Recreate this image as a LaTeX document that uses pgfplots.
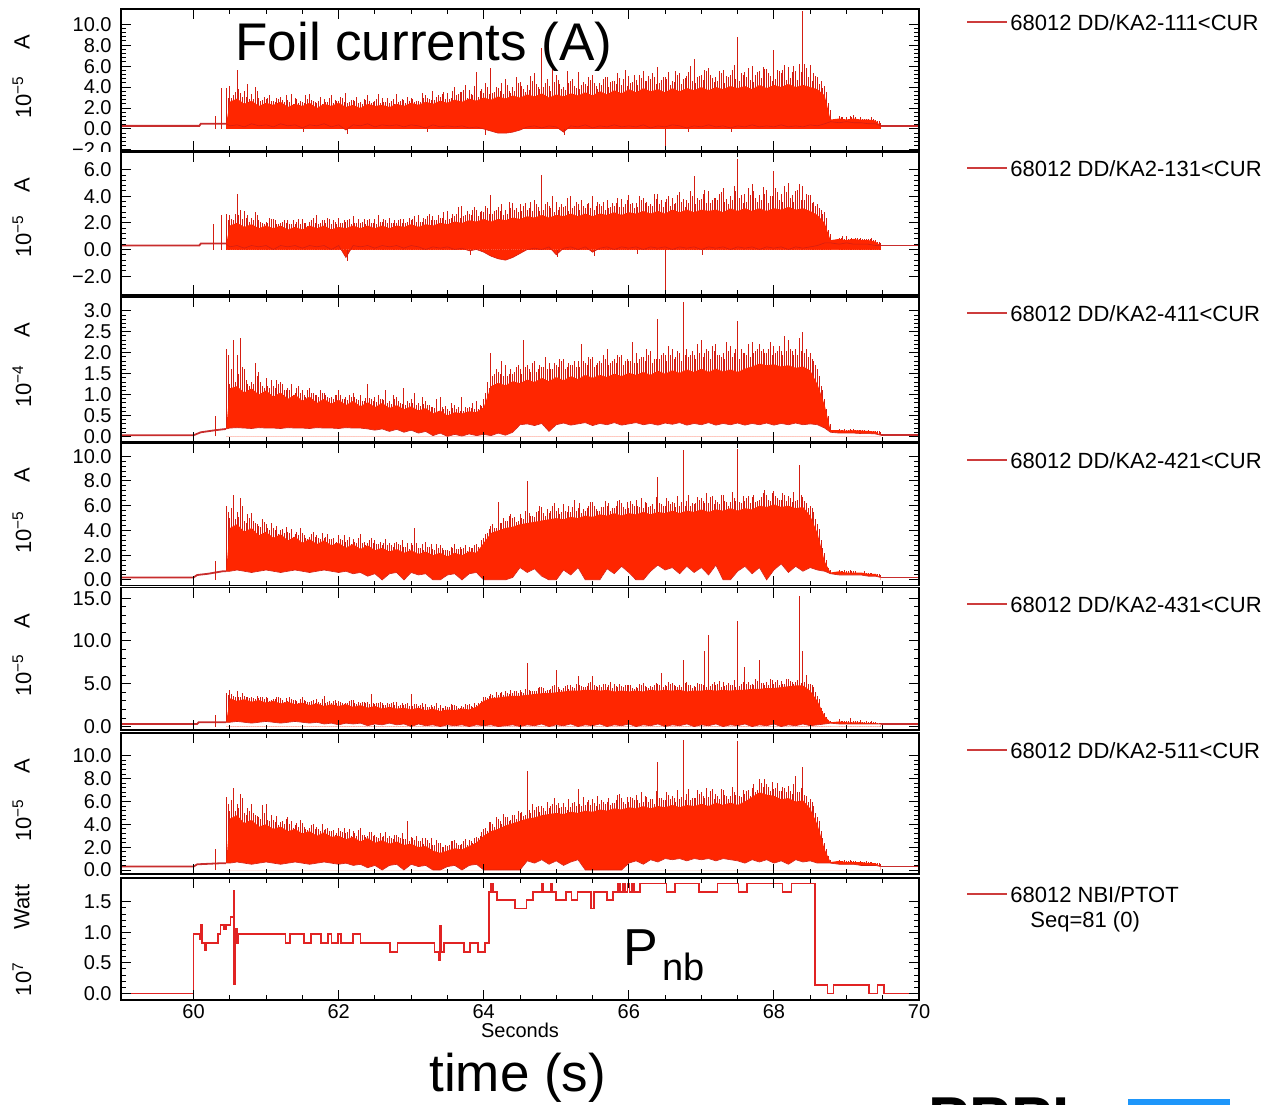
\documentclass[border=0pt]{standalone}
\usepackage{fontspec}
\setmainfont{Liberation Sans}
\usepackage{pgfplots}
\pgfplotsset{compat=1.18}
\usepackage{pgfplotstable}

\definecolor{fillred}{RGB}{255,38,0}
\definecolor{spk}{RGB}{212,30,18}
\definecolor{basec}{RGB}{200,45,45}
\definecolor{legred}{RGB}{205,60,60}
\definecolor{pwr}{RGB}{225,35,35}
\definecolor{logoblue}{RGB}{30,150,250}

% t: s ; lo/hi: core band ; spikes: sa at t, sc at t+0.025, sb at t+0.05, sd at t+0.075
\pgfplotstableread{
t lo hi sa sb sc sd
60.45 0.5 0.5 3.9 0 3.0 2.8
60.5 0.3 2.6 4.1 3.2 3.0 3.5
60.6 0.4 2.9 5.6 3.4 3.8 3.1
60.7 0.2 2.4 3.6 4.3 3.1 2.9
60.8 0.5 2.7 3.3 4.0 2.9 3.6
60.9 0.3 2.2 3.0 2.8 2.7 3.1
61.0 0.4 2.5 2.9 3.2 3.0 2.7
61.1 0.2 2.3 2.7 3.0 2.6 2.9
61.2 0.5 2.6 3.1 2.6 2.8 3.2
61.3 0.3 2.1 2.8 3.3 2.6 2.4
61.4 0.4 2.4 3.0 2.5 2.9 2.7
61.5 0.1 2.2 2.6 3.2 2.5 2.9
61.6 0.4 2.5 3.3 2.7 2.8 2.6
61.7 0.3 2.0 2.5 3.1 2.7 2.4
61.8 0.5 2.4 2.9 2.6 2.6 3.0
61.9 0.2 2.2 3.2 2.8 2.5 2.7
62.0 0.4 2.5 2.7 3.0 3.1 2.6
62.1 -0.1 2.1 3.4 2.6 2.5 2.8
62.2 0.4 2.3 2.8 3.1 2.7 2.5
62.3 0.3 2.0 2.6 2.9 2.4 2.8
62.4 0.5 2.4 3.2 2.5 2.7 2.6
62.5 0.2 2.2 2.7 3.3 2.9 2.5
62.6 0.4 2.3 3.0 2.6 2.6 3.0
62.7 0.3 2.1 2.5 2.9 2.7 2.4
62.8 0.4 2.4 3.3 2.7 2.6 2.9
62.9 0.2 2.2 2.8 3.1 2.5 2.7
63.0 0.4 2.5 3.0 2.6 2.9 2.7
63.1 0.3 2.3 2.7 3.4 2.6 3.0
63.2 0.1 2.6 3.2 2.9 3.0 2.8
63.3 0.4 2.4 3.6 3.1 2.8 3.2
63.4 0.2 2.7 3.1 3.5 3.3 2.9
63.5 0.3 2.5 3.4 3.0 2.9 3.6
63.6 0.2 2.8 4.0 3.3 3.2 3.5
63.7 0.3 2.6 3.5 4.2 3.7 3.0
63.8 0.1 2.9 3.7 3.2 3.3 4.1
63.9 0.2 2.7 5.4 3.6 3.1 3.8
64.0 0.0 3.0 3.4 4.0 4.4 3.3
64.1 -0.2 2.8 5.8 3.5 3.4 4.0
64.2 -0.4 3.1 3.9 4.4 3.6 3.3
64.3 -0.4 2.9 4.8 3.6 4.2 3.4
64.4 -0.3 3.2 4.0 5.0 3.6 4.4
64.5 -0.1 3.0 4.5 3.8 4.1 3.5
64.6 0.2 3.3 4.2 5.1 3.7 4.6
64.7 0.3 3.1 5.3 4.0 4.3 3.8
64.8 0.1 3.4 7.7 4.4 4.0 4.8
64.9 0.3 3.0 4.1 6.0 3.6 4.5
65.0 0.2 3.3 5.2 4.3 4.7 3.8
65.1 -0.3 3.1 4.0 5.5 3.7 4.4
65.2 0.3 3.4 4.6 4.1 4.8 3.9
65.3 0.2 3.2 5.4 4.2 3.8 4.5
65.4 0.4 3.5 4.3 5.0 4.1 4.7
65.5 0.1 3.2 5.2 4.1 4.4 3.8
65.6 0.3 3.6 4.4 4.8 4.2 5.0
65.7 0.2 3.3 5.0 4.5 4.0 4.6
65.8 0.4 3.7 4.6 5.3 4.3 4.9
65.9 0.2 3.4 4.2 5.6 4.8 4.1
66.0 0.3 3.8 5.1 4.5 4.4 5.2
66.1 0.2 3.5 4.7 5.2 4.2 4.9
66.2 0.4 3.9 5.5 4.6 4.6 5.1
66.3 0.1 3.6 4.8 5.0 5.3 4.3
66.4 0.3 3.8 5.9 4.7 4.4 5.0
66.5 0.2 3.5 5.0 5.4 4.8 4.2
66.6 0.4 3.9 4.6 5.5 4.5 5.2
66.7 0.3 3.6 5.3 4.8 4.3 4.9
66.8 0.1 3.9 5.1 6.0 5.4 4.6
66.9 0.3 3.7 6.7 5.0 4.4 5.1
67.0 0.2 4.0 5.2 5.6 4.7 5.5
67.1 0.4 3.7 5.8 4.9 5.2 4.5
67.2 0.2 4.0 5.0 5.5 4.6 5.3
67.3 0.3 3.8 5.6 5.1 4.4 5.0
67.4 0.1 4.1 5.2 6.1 5.6 4.8
67.5 0.3 3.9 8.8 5.3 4.6 5.2
67.6 0.2 4.1 5.4 5.8 5.0 4.7
67.7 0.4 3.8 6.0 5.2 4.5 5.4
67.8 0.2 4.2 5.5 5.9 4.9 5.7
67.9 0.3 3.9 5.7 5.1 5.3 4.6
68.0 0.2 4.2 7.5 5.6 4.8 5.5
68.1 0.4 4.0 5.3 6.1 5.6 4.7
68.2 0.2 4.3 5.9 5.4 4.9 6.0
68.3 0.3 4.0 5.5 6.2 4.7 5.4
68.4 0.2 4.2 11.3 5.8 6.2 5.0
68.5 0.4 4.0 6.1 5.3 4.6 5.1
68.6 0.3 3.8 5.0 4.6 4.3 3.9
68.7 0.5 3.2 4.1 2.5 3.5 1.8
68.78 0.7 0.9 0 0 0 0
68.9 0.6 1.0 1.2 1.1 1.1 1.0
69.0 0.7 0.9 1.1 1.2 1.0 1.1
69.1 0.6 1.0 1.3 1.0 1.1 0.9
69.2 0.6 0.9 1.1 1.0 1.0 1.0
69.3 0.5 0.9 1.0 1.1 0.9 1.0
69.4 0.5 0.8 0.9 0.8 0.8 0.6
69.47 0.3 0.3 0 0 0 0
}\dA

\pgfplotstableread{
t lo hi sa sb sc sd
60.45 0.4 0.4 2.7 0 2.2 2.0
60.5 0.2 1.8 2.6 2.2 2.3 2.7
60.6 0.3 2.0 4.2 3.0 2.6 2.3
60.7 0.1 1.7 2.9 2.6 2.4 2.1
60.8 0.3 1.9 2.4 2.8 2.2 2.6
60.9 0.2 1.6 2.2 2.0 2.1 1.9
61.0 0.3 1.8 2.1 2.4 2.0 2.3
61.1 0.0 1.6 2.3 1.9 2.2 1.9
61.2 0.3 1.8 2.0 2.2 2.1 2.0
61.3 0.2 1.5 2.2 1.9 1.9 2.2
61.4 0.3 1.7 1.9 2.3 2.1 1.9
61.5 0.1 1.5 2.3 2.0 2.0 1.8
61.6 0.3 1.8 2.1 2.4 2.2 2.0
61.7 0.2 1.6 2.6 2.0 1.9 2.2
61.8 0.3 1.8 2.2 2.4 2.0 2.3
61.9 0.0 1.5 1.9 2.1 2.2 1.9
62.0 0.3 1.7 2.4 2.0 2.0 2.2
62.1 -0.6 1.6 2.1 2.3 2.2 1.9
62.2 0.3 1.8 2.5 2.0 2.0 2.3
62.3 0.2 1.6 2.0 2.3 2.1 1.9
62.4 0.3 1.8 2.2 2.0 2.3 2.0
62.5 0.1 1.6 2.3 2.6 1.9 2.1
62.6 0.3 1.8 2.1 2.2 2.3 2.0
62.7 0.2 1.6 2.4 2.0 2.0 2.2
62.8 0.3 1.8 2.0 2.3 2.2 2.0
62.9 0.1 1.7 2.3 2.1 2.0 2.4
63.0 0.3 1.9 2.2 2.5 2.3 2.1
63.1 0.2 1.7 2.6 2.1 2.1 2.4
63.2 0.0 1.9 2.3 2.7 2.5 2.2
63.3 0.2 1.8 2.5 2.2 2.2 2.6
63.4 0.1 2.0 2.4 2.8 2.4 2.2
63.5 0.2 1.9 2.9 2.4 2.3 2.7
63.6 0.0 2.1 2.5 3.2 2.7 2.4
63.7 0.1 2.0 3.3 2.6 2.5 2.9
63.8 -0.1 2.2 2.7 3.0 2.6 3.2
63.9 0.0 2.1 3.0 2.8 2.5 2.9
64.0 -0.2 2.3 2.8 3.1 3.3 2.7
64.1 -0.5 2.1 4.1 2.9 2.7 3.0
64.2 -0.7 2.3 3.2 3.4 2.9 2.6
64.3 -0.8 2.2 3.0 3.6 2.7 3.1
64.4 -0.6 2.4 3.5 3.1 3.0 2.8
64.5 -0.3 2.3 3.4 3.3 2.9 3.5
64.6 0.0 2.5 3.0 3.6 3.1 2.9
64.7 0.1 2.4 3.7 3.2 3.4 2.9
64.8 0.0 2.6 5.6 3.4 3.0 3.6
64.9 0.2 2.4 3.3 4.0 3.1 2.8
65.0 -0.4 2.6 3.6 3.2 3.0 3.4
65.1 0.1 2.5 3.2 3.9 3.3 2.9
65.2 0.2 2.7 4.0 3.3 3.1 3.6
65.3 0.0 2.5 3.4 3.7 3.0 3.3
65.4 0.2 2.7 3.1 3.5 3.4 3.1
65.5 -0.2 2.5 4.0 3.3 3.0 3.6
65.6 0.1 2.7 3.4 3.6 3.3 3.0
65.7 0.2 2.6 3.7 3.2 3.1 3.5
65.8 0.0 2.8 3.3 3.9 3.5 3.2
65.9 0.2 2.6 3.8 3.4 3.2 3.7
66.0 0.1 2.8 4.1 3.5 3.4 3.1
66.1 0.2 2.7 3.5 4.0 3.2 3.7
66.2 0.0 2.9 3.9 3.6 3.5 3.3
66.3 0.2 2.7 3.4 4.2 3.3 3.8
66.4 0.1 2.9 4.2 3.7 3.4 3.2
66.5 0.2 2.7 3.6 4.0 3.8 3.3
66.6 0.0 3.0 3.9 3.5 3.4 4.1
66.7 0.2 2.8 4.3 3.8 3.6 3.2
66.8 0.1 3.0 3.7 4.4 3.5 4.0
66.9 0.2 2.8 5.5 3.9 3.4 3.7
67.0 0.0 3.0 3.8 4.5 4.2 3.5
67.1 0.2 2.9 4.4 3.7 3.5 3.9
67.2 0.1 3.0 3.9 4.2 3.7 4.3
67.3 0.2 2.8 4.6 3.8 3.6 3.4
67.4 0.0 3.1 4.0 4.8 3.7 4.4
67.5 0.2 2.9 6.8 4.1 3.9 3.5
67.6 0.1 3.1 4.2 4.6 3.6 4.1
67.7 0.2 2.9 4.9 3.9 4.4 3.6
67.8 0.0 3.1 4.1 4.7 3.7 4.2
67.9 0.2 2.9 4.5 4.0 3.5 4.0
68.0 0.1 3.1 5.9 4.3 4.6 3.7
68.1 0.2 3.0 4.2 4.8 3.6 4.3
68.2 0.0 3.2 5.0 4.1 3.9 3.6
68.3 0.2 3.0 4.4 4.9 4.5 3.7
68.4 0.1 3.1 4.8 4.2 3.7 4.1
68.5 0.2 2.9 4.1 3.6 3.5 3.3
68.6 0.3 2.6 3.4 3.0 3.1 2.7
68.7 0.5 2.0 2.8 1.5 2.4 1.2
68.78 0.5 0.7 0 0 0 0
68.9 0.4 0.8 0.9 1.0 0.9 0.8
69.0 0.5 0.7 1.0 0.8 0.8 0.9
69.1 0.4 0.8 0.8 0.9 0.9 0.8
69.2 0.4 0.7 0.9 0.8 0.8 0.8
69.3 0.4 0.7 0.8 0.9 0.8 0.7
69.4 0.3 0.6 0.7 0.6 0.6 0.5
69.47 0.3 0.3 0 0 0 0
}\dB

\pgfplotstableread{
t lo hi sa sb sc sd
60.45 0.18 0.18 2.10 0 1.95 1.60
60.5 0.20 1.15 1.25 2.30 1.45 1.30
60.6 0.21 1.20 1.95 2.35 1.50 1.65
60.7 0.20 1.05 1.60 1.25 1.35 1.20
60.8 0.19 1.15 1.30 1.75 1.25 1.45
60.9 0.21 1.00 1.55 1.20 1.30 1.15
61.0 0.20 1.10 1.40 1.15 1.20 1.35
61.1 0.20 0.95 1.20 1.35 1.15 1.25
61.2 0.19 1.05 1.30 1.10 1.25 1.10
61.3 0.21 0.90 1.15 1.25 1.10 1.00
61.4 0.20 1.00 1.05 1.20 1.15 1.05
61.5 0.20 0.85 1.10 0.95 1.00 1.10
61.6 0.19 0.95 1.15 1.05 1.05 0.98
61.7 0.21 0.80 1.00 1.10 0.95 1.05
61.8 0.20 0.90 1.05 0.95 1.00 0.92
61.9 0.20 0.78 0.95 1.00 0.90 1.00
62.0 0.19 0.88 1.10 0.90 0.98 0.90
62.1 0.21 0.75 0.95 1.00 0.88 0.95
62.2 0.20 0.85 1.05 0.90 0.95 0.88
62.3 0.20 0.72 1.00 0.85 0.85 0.92
62.4 0.18 0.82 1.25 0.90 0.92 0.85
62.5 0.15 0.70 0.95 1.00 0.82 0.90
62.6 0.18 0.80 0.90 1.10 0.88 0.80
62.7 0.12 0.68 0.85 1.00 0.78 0.90
62.8 0.17 0.75 0.95 0.80 0.85 0.78
62.9 0.10 0.65 1.15 0.85 0.75 0.80
63.0 0.15 0.72 0.90 1.05 0.80 0.75
63.1 0.08 0.62 0.80 0.95 0.72 0.78
63.2 0.12 0.68 0.85 0.75 0.75 0.70
63.3 0.02 0.55 0.70 0.90 0.68 0.62
63.4 0.08 0.62 0.95 0.65 0.70 0.72
63.5 0.00 0.50 0.65 0.80 0.62 0.68
63.6 0.05 0.58 0.75 0.70 0.65 0.60
63.7 0.01 0.55 0.95 0.70 0.62 0.68
63.8 0.06 0.60 0.70 0.80 0.68 0.66
63.9 0.02 0.58 0.85 0.75 0.65 0.72
64.0 0.05 0.70 0.90 1.30 1.05 1.15
64.1 0.02 1.20 2.00 1.50 1.45 1.60
64.2 0.08 1.28 1.55 1.80 1.50 1.45
64.3 0.03 1.22 1.70 1.50 1.45 1.60
64.4 0.10 1.32 1.50 1.65 1.55 1.70
64.5 0.28 1.27 1.60 2.30 1.50 1.65
64.6 0.30 1.36 1.70 1.55 1.60 1.75
64.7 0.26 1.30 1.80 1.60 1.55 1.70
64.8 0.31 1.40 1.65 1.90 1.65 1.60
64.9 0.12 1.32 1.75 1.60 1.60 1.75
65.0 0.28 1.42 1.70 1.85 1.65 1.80
65.1 0.32 1.34 1.85 1.65 1.60 1.75
65.2 0.27 1.44 1.70 1.80 1.70 1.65
65.3 0.30 1.37 1.80 2.20 1.65 1.80
65.4 0.33 1.47 1.75 1.90 1.70 1.85
65.5 0.26 1.40 1.90 1.70 1.65 1.75
65.6 0.31 1.47 1.80 1.95 1.75 1.85
65.7 0.28 1.42 2.10 1.75 1.70 1.80
65.8 0.33 1.50 1.85 1.95 1.75 1.90
65.9 0.27 1.44 1.95 1.80 1.70 1.85
66.0 0.30 1.52 1.80 2.25 1.80 1.75
66.1 0.33 1.47 2.00 1.85 1.75 1.90
66.2 0.28 1.54 1.90 2.10 1.80 1.95
66.3 0.31 1.47 2.05 1.85 1.75 1.85
66.4 0.27 1.57 2.80 1.95 1.85 2.00
66.5 0.32 1.50 1.95 2.15 1.80 1.95
66.6 0.29 1.58 2.10 1.90 1.85 2.05
66.7 0.33 1.52 2.00 3.20 1.80 1.95
66.8 0.27 1.60 2.10 1.95 1.90 2.05
66.9 0.31 1.54 1.95 2.20 1.85 2.00
67.0 0.28 1.62 2.30 2.00 1.90 2.10
67.1 0.33 1.54 2.05 2.15 1.85 2.05
67.2 0.27 1.62 2.20 1.95 1.95 1.90
67.3 0.31 1.55 2.00 2.25 1.85 2.05
67.4 0.28 1.60 2.15 2.00 1.90 2.10
67.5 0.32 1.54 2.75 2.10 1.85 2.00
67.6 0.27 1.62 2.00 2.20 1.95 1.90
67.7 0.31 1.67 2.25 2.05 2.00 2.10
67.8 0.28 1.74 2.20 2.10 2.05 2.00
67.9 0.32 1.70 2.00 2.25 2.10 1.95
68.0 0.27 1.72 2.15 2.05 2.00 2.15
68.1 0.31 1.67 2.05 2.40 1.95 2.05
68.2 0.28 1.70 2.30 2.05 2.10 1.95
68.3 0.32 1.64 2.10 2.35 1.95 2.05
68.4 0.28 1.67 2.50 2.10 2.00 1.90
68.5 0.30 1.58 2.00 1.80 1.85 1.70
68.6 0.28 1.25 1.60 1.20 1.45 1.10
68.7 0.20 0.75 0.90 0.50 0.65 0.30
68.78 0.10 0.15 0 0 0 0
68.9 0.08 0.15 0.18 0.16 0.16 0.17
69.0 0.08 0.14 0.16 0.17 0.15 0.16
69.1 0.08 0.15 0.17 0.15 0.16 0.15
69.2 0.07 0.14 0.15 0.16 0.15 0.14
69.3 0.07 0.13 0.15 0.14 0.14 0.14
69.4 0.06 0.12 0.13 0.12 0.12 0.10
69.47 0.03 0.03 0 0 0 0
}\dC

\pgfplotstableread{
t lo hi sa sb sc sd
60.45 0.7 0.7 6.0 0 5.5 4.8
60.5 0.7 4.2 5.0 6.9 5.8 4.9
60.6 0.8 4.5 5.5 6.6 5.1 6.0
60.7 0.7 3.9 4.8 5.3 4.6 5.0
60.8 0.6 4.2 5.4 4.6 4.8 4.5
60.9 0.7 3.6 4.4 4.9 4.3 4.7
61.0 0.8 3.9 4.5 4.0 4.2 4.6
61.1 0.7 3.4 4.2 4.4 4.0 3.7
61.2 0.6 3.7 4.0 3.8 4.1 4.3
61.3 0.7 3.2 3.9 4.1 3.8 3.5
61.4 0.8 3.5 3.7 3.6 3.9 4.2
61.5 0.7 3.0 3.8 3.4 3.6 3.3
61.6 0.6 3.3 3.5 3.9 3.7 3.5
61.7 0.7 2.9 3.6 3.3 3.4 3.8
61.8 0.8 3.2 3.4 3.7 3.5 3.3
61.9 0.7 2.8 3.3 3.0 3.4 3.1
62.0 0.6 3.0 3.6 3.2 3.3 3.6
62.1 0.7 2.6 3.1 3.5 3.2 2.9
62.2 0.5 2.9 3.3 3.0 3.1 3.4
62.3 0.6 2.5 3.7 3.1 3.0 2.8
62.4 0.3 2.8 3.0 3.4 3.2 3.0
62.5 0.5 2.4 3.2 2.9 2.9 3.1
62.6 0.0 2.6 2.8 3.3 3.0 2.8
62.7 0.5 2.3 3.0 2.7 2.8 3.0
62.8 0.6 2.5 3.1 2.8 2.9 3.2
62.9 0.0 2.2 2.7 3.0 2.7 2.5
63.0 0.6 2.4 3.0 4.2 2.8 3.0
63.1 0.4 2.1 2.6 2.9 2.6 2.4
63.2 0.5 2.3 3.1 2.7 2.7 2.9
63.3 0.0 2.0 2.5 2.9 2.4 2.6
63.4 0.0 2.2 2.8 2.4 2.6 2.4
63.5 0.4 1.9 2.4 2.7 2.3 2.6
63.6 0.5 2.2 2.9 2.5 2.5 2.7
63.7 0.0 2.0 2.5 2.8 2.6 2.3
63.8 0.5 2.3 2.7 2.6 2.6 2.8
63.9 0.6 2.2 2.9 2.5 2.7 3.2
64.0 0.0 3.0 3.4 3.8 3.7 4.1
64.1 0.0 3.8 4.4 4.2 4.5 4.2
64.2 0.0 4.0 6.3 4.6 4.6 5.0
64.3 0.0 4.2 4.8 5.2 4.8 5.3
64.4 0.2 4.3 5.0 4.7 5.1 4.8
64.5 1.0 4.5 5.3 4.9 5.0 5.6
64.6 0.6 4.6 8.0 5.2 5.4 5.2
64.7 0.9 4.7 5.1 5.6 5.5 6.0
64.8 0.3 4.8 5.9 5.2 5.4 5.7
64.9 0.0 4.9 5.4 6.0 5.6 6.2
65.0 0.0 5.0 5.6 5.3 5.8 5.5
65.1 0.8 4.9 6.1 5.5 5.6 6.0
65.2 0.4 5.1 5.5 6.5 5.9 5.6
65.3 1.0 5.0 5.8 5.4 6.2 5.7
65.4 0.0 5.2 5.6 6.0 5.8 6.3
65.5 0.0 5.1 6.3 5.7 6.0 5.6
65.6 0.0 5.3 5.6 5.9 5.9 6.4
65.7 0.9 5.2 6.0 5.6 6.2 5.8
65.8 0.5 5.4 5.8 6.4 6.0 6.5
65.9 1.1 5.2 6.2 5.7 5.9 6.3
66.0 0.6 5.4 5.8 6.1 6.4 6.0
66.1 0.0 5.3 6.5 5.9 6.0 6.6
66.2 0.0 5.5 5.8 6.2 6.3 5.9
66.3 0.7 5.3 6.0 5.7 6.1 6.7
66.4 1.2 5.5 8.3 6.1 6.2 6.0
66.5 0.8 5.4 6.0 6.4 6.6 6.1
66.6 1.0 5.6 6.3 5.9 6.2 6.8
66.7 0.5 5.4 6.0 10.5 6.3 6.0
66.8 1.1 5.6 6.4 6.0 6.9 6.2
66.9 0.6 5.5 6.1 6.7 6.2 6.5
67.0 1.0 5.7 6.6 6.2 6.4 7.0
67.1 0.4 5.5 6.2 6.8 6.7 6.1
67.2 1.2 5.7 6.5 6.1 6.3 6.9
67.3 0.0 5.6 6.9 6.3 6.4 6.0
67.4 0.0 5.8 6.3 6.6 7.1 6.4
67.5 0.7 5.6 10.6 6.2 6.3 6.8
67.6 1.1 5.8 6.4 6.8 6.6 6.2
67.7 0.5 5.7 6.7 6.3 6.9 6.4
67.8 1.0 6.0 6.5 7.0 6.7 7.3
67.9 0.0 5.9 6.9 6.4 6.5 7.0
68.0 0.8 6.1 7.2 6.6 6.8 6.5
68.1 1.3 5.9 6.5 6.9 7.0 6.4
68.2 0.6 6.0 6.8 6.3 6.6 7.1
68.3 1.1 5.8 6.4 9.3 6.5 6.9
68.4 0.7 5.9 6.7 6.2 6.4 5.8
68.5 1.0 5.2 6.0 5.5 5.8 4.9
68.6 0.8 3.8 4.5 3.2 4.1 2.6
68.7 0.7 1.5 2.2 1.0 1.6 0.8
68.78 0.5 0.6 0 0 0 0
68.9 0.4 0.7 0.8 0.7 0.7 0.8
69.0 0.4 0.6 0.7 0.8 0.7 0.7
69.1 0.4 0.6 0.7 0.6 0.7 0.6
69.2 0.4 0.6 0.6 0.7 0.6 0.6
69.3 0.3 0.5 0.6 0.6 0.6 0.5
69.4 0.3 0.5 0.5 0.5 0.5 0.4
69.47 0.2 0.2 0 0 0 0
}\dD

\pgfplotstableread{
t lo hi sa sb sc sd
60.45 0.5 0.5 3.9 0 3.7 3.4
60.5 0.5 3.3 4.3 3.6 3.8 3.5
60.6 0.6 3.0 4.1 3.5 3.4 3.9
60.7 0.5 3.2 3.6 3.4 3.5 3.3
60.8 0.4 2.9 3.5 3.2 3.3 3.6
60.9 0.5 3.1 3.3 3.5 3.4 3.2
61.0 0.6 2.8 3.4 3.0 3.3 3.1
61.1 0.5 3.0 3.2 3.4 3.2 3.5
61.2 0.4 2.7 3.3 2.9 3.1 3.3
61.3 0.5 2.9 3.0 3.2 3.4 3.1
61.4 0.6 2.6 3.1 2.8 3.0 3.2
61.5 0.5 2.8 3.4 3.0 3.1 2.9
61.6 0.4 2.5 2.9 3.1 3.0 2.8
61.7 0.5 2.7 3.2 2.8 2.9 3.2
61.8 0.3 2.4 3.6 2.9 2.8 3.0
61.9 0.4 2.6 2.8 3.1 3.0 2.8
62.0 0.2 2.4 3.0 2.7 2.9 2.6
62.1 0.4 2.6 2.8 3.0 2.8 3.1
62.2 0.3 2.3 3.1 2.6 2.7 2.9
62.3 0.4 2.5 2.7 2.9 2.9 2.7
62.4 0.1 2.2 2.9 3.8 2.6 2.8
62.5 0.3 2.4 2.6 2.8 2.7 2.9
62.6 0.2 2.1 2.8 2.5 2.5 2.7
62.7 0.4 2.3 2.6 2.9 2.8 2.5
62.8 0.2 2.1 2.9 2.5 2.4 2.7
62.9 0.3 2.2 2.5 2.8 2.6 2.4
63.0 0.0 2.0 3.8 2.6 2.4 2.6
63.1 0.3 2.2 2.4 2.7 2.5 2.3
63.2 0.1 1.9 2.6 2.3 2.3 2.5
63.3 0.2 2.1 2.3 2.7 2.4 2.2
63.4 0.0 1.8 2.5 2.2 2.2 2.4
63.5 0.2 2.0 2.3 2.6 2.3 2.5
63.6 0.1 1.9 2.5 2.2 2.4 2.2
63.7 0.2 2.1 2.4 2.6 2.3 2.5
63.8 0.0 2.0 2.6 2.3 2.4 2.7
63.9 0.2 2.3 2.5 2.8 2.8 3.0
64.0 0.1 3.0 3.5 3.3 3.4 3.6
64.1 0.2 3.3 3.8 3.5 3.7 4.0
64.2 0.0 3.4 3.7 4.0 3.9 3.7
64.3 0.1 3.5 4.1 3.8 3.9 4.3
64.4 0.2 3.6 3.9 4.2 4.1 3.9
64.5 0.0 3.6 4.3 3.9 4.0 4.4
64.6 0.2 3.7 7.4 4.2 4.3 4.1
64.7 0.1 3.8 4.1 4.5 4.2 4.6
64.8 0.3 3.9 4.6 4.2 4.5 4.3
64.9 0.0 3.9 4.3 4.7 4.4 4.8
65.0 0.2 4.0 6.6 4.4 4.6 4.3
65.1 0.1 4.1 4.5 4.9 4.7 4.4
65.2 0.3 4.2 4.8 4.5 4.6 5.0
65.3 0.0 4.2 5.9 4.7 4.8 4.6
65.4 0.2 4.3 4.6 5.1 4.7 5.2
65.5 0.1 4.3 5.9 4.7 4.9 4.6
65.6 0.3 4.2 4.8 5.0 4.6 5.0
65.7 0.0 4.3 4.6 5.2 4.8 4.5
65.8 0.2 4.1 5.0 4.6 4.7 5.0
65.9 0.1 4.2 4.7 4.9 4.6 4.9
66.0 0.3 4.1 4.9 4.5 4.8 4.4
66.1 0.0 4.2 4.6 5.0 4.5 4.9
66.2 0.2 4.1 5.1 4.6 4.7 4.5
66.3 0.1 4.3 4.7 4.9 4.6 5.1
66.4 0.3 4.2 5.0 6.3 4.8 4.6
66.5 0.0 4.3 4.8 5.2 4.7 5.0
66.6 0.2 4.2 5.1 4.7 4.9 4.6
66.7 0.1 4.3 4.9 7.8 4.6 5.1
66.8 0.3 4.1 5.2 4.8 4.8 4.5
66.9 0.0 4.2 4.7 5.1 4.6 5.0
67.0 0.2 4.2 5.0 8.8 4.9 4.6
67.1 0.1 4.3 10.7 5.0 4.7 5.2
67.2 0.3 4.2 4.9 5.3 5.0 4.6
67.3 0.0 4.3 5.2 4.8 4.7 5.1
67.4 0.2 4.2 4.9 5.4 4.9 4.6
67.5 0.1 4.3 12.3 5.0 4.7 5.2
67.6 0.3 4.3 7.0 5.2 5.0 4.8
67.7 0.0 4.4 5.0 5.5 4.9 5.3
67.8 0.2 4.4 7.8 5.1 5.1 4.8
67.9 0.1 4.5 5.2 5.6 4.9 5.4
68.0 0.3 4.5 5.0 5.4 5.2 4.9
68.1 0.0 4.6 5.3 5.0 5.0 5.5
68.2 0.2 4.7 5.5 5.2 5.3 5.0
68.3 0.1 4.8 5.2 15.3 5.4 5.1
68.4 0.3 4.8 8.8 6.0 5.2 5.0
68.5 0.1 4.2 5.0 4.6 4.8 4.0
68.6 0.2 3.0 3.6 2.2 3.2 1.8
68.7 0.3 1.2 1.6 0.8 1.1 0.6
68.78 0.4 0.5 0 0 0 0
68.9 0.3 0.6 0.9 0.7 0.6 0.7
69.0 0.3 0.5 0.6 1.0 0.6 0.5
69.1 0.3 0.5 0.6 0.6 0.7 0.5
69.2 0.3 0.5 0.8 0.5 0.5 0.6
69.3 0.3 0.4 0.5 0.6 0.5 0.5
69.4 0.3 0.4 0.5 0.4 0.4 0.4
69.47 0.3 0.3 0 0 0 0
}\dE

\pgfplotstableread{
t lo hi sa sb sc sd
60.45 0.6 0.6 6.4 0 5.8 5.0
60.5 0.6 4.5 5.2 7.2 6.1 5.2
60.6 0.7 4.8 5.8 6.7 5.4 6.3
60.7 0.6 4.1 5.0 5.4 4.8 5.2
60.8 0.5 4.4 5.8 4.8 5.0 4.7
60.9 0.6 3.8 4.6 5.7 4.5 5.0
61.0 0.7 4.0 5.8 4.3 4.4 4.8
61.1 0.6 3.6 4.4 4.7 4.2 3.9
61.2 0.5 3.8 4.2 4.0 4.3 4.5
61.3 0.6 3.4 4.6 4.3 4.0 3.7
61.4 0.7 3.6 3.9 3.8 4.1 4.4
61.5 0.6 3.2 4.1 3.6 3.8 3.5
61.6 0.5 3.4 3.7 4.0 3.9 3.6
61.7 0.6 3.0 3.8 3.4 3.6 4.0
61.8 0.7 3.3 3.5 3.7 3.6 3.4
61.9 0.6 2.9 3.4 3.1 3.5 3.2
62.0 0.5 3.0 3.7 3.3 3.4 3.7
62.1 0.6 2.7 3.2 3.6 3.3 3.0
62.2 0.4 2.9 3.4 3.0 3.2 3.5
62.3 0.5 2.5 3.7 3.1 3.1 2.9
62.4 0.2 2.8 3.0 3.3 3.3 3.0
62.5 0.4 2.4 3.1 2.8 2.9 3.2
62.6 0.0 2.6 2.9 3.3 3.0 2.8
62.7 0.4 2.3 3.0 2.7 2.8 3.1
62.8 0.5 2.5 3.1 2.8 2.9 3.2
62.9 0.0 2.2 2.7 4.3 2.7 2.5
63.0 0.5 2.3 2.9 2.6 2.8 3.0
63.1 0.3 2.0 2.5 2.8 2.5 2.3
63.2 0.4 2.1 2.8 2.4 2.6 2.8
63.3 0.0 1.7 2.2 2.6 2.2 2.4
63.4 0.0 1.5 2.4 2.0 2.0 2.2
63.5 0.3 1.7 2.1 2.5 2.2 2.5
63.6 0.4 1.9 2.6 2.2 2.4 2.2
63.7 0.0 1.8 2.3 2.7 2.5 2.2
63.8 0.4 2.1 2.6 2.4 2.5 2.8
63.9 0.5 2.4 2.9 3.0 2.8 3.3
64.0 0.0 3.0 3.6 3.4 3.7 4.2
64.1 0.0 3.4 4.2 3.8 4.0 4.6
64.2 0.0 3.6 4.5 4.0 4.3 4.9
64.3 0.0 3.9 4.6 4.3 4.6 4.4
64.4 0.0 4.1 4.8 4.5 4.8 5.2
64.5 0.0 4.3 5.0 4.7 5.1 4.8
64.6 0.8 4.5 8.7 5.0 5.3 5.8
64.7 0.6 4.6 5.3 5.6 5.5 5.1
64.8 0.9 4.8 5.6 5.2 5.4 6.0
64.9 0.5 4.9 5.4 5.8 5.6 6.3
65.0 0.8 5.0 5.7 5.4 5.9 5.5
65.1 0.4 4.9 5.9 5.3 5.5 6.2
65.2 0.7 5.1 5.5 6.0 5.9 5.6
65.3 0.9 5.0 7.1 5.6 5.8 6.4
65.4 0.0 5.2 5.7 6.1 6.0 5.7
65.5 0.0 5.1 6.2 5.6 5.9 6.5
65.6 0.0 5.3 5.8 6.0 6.1 5.8
65.7 0.0 5.2 6.0 5.7 6.3 5.9
65.8 0.0 5.4 5.9 6.6 6.1 6.7
65.9 0.0 5.3 6.3 5.8 6.0 6.4
66.0 0.6 5.5 6.0 6.3 6.4 6.1
66.1 0.8 5.4 6.6 5.9 6.1 6.8
66.2 0.5 5.6 6.0 6.4 6.5 6.0
66.3 0.9 5.4 6.2 5.8 6.2 6.9
66.4 0.7 5.6 9.5 6.3 6.3 6.1
66.5 1.0 5.5 6.1 6.6 6.8 6.2
66.6 0.9 5.7 6.5 6.0 6.3 7.0
66.7 1.0 5.5 6.2 11.4 6.4 6.1
66.8 0.8 5.7 6.7 6.1 7.1 6.3
66.9 1.0 5.6 6.3 7.0 6.3 6.7
67.0 0.9 5.8 6.8 6.3 6.5 7.2
67.1 1.0 5.6 6.4 7.1 6.9 6.2
67.2 0.8 5.9 6.7 6.2 6.5 7.1
67.3 1.0 5.7 7.0 6.5 6.6 6.2
67.4 0.9 5.9 6.5 6.8 7.3 6.6
67.5 0.8 5.7 11.3 6.4 6.5 7.0
67.6 0.6 6.0 6.7 7.0 6.9 6.5
67.7 0.9 6.4 7.2 6.8 7.5 7.0
67.8 0.7 6.8 8.0 7.3 7.6 8.0
67.9 0.9 6.6 7.5 6.9 7.3 7.7
68.0 0.6 6.5 7.1 7.6 7.2 6.9
68.1 0.8 6.2 6.9 7.2 7.3 6.8
68.2 0.5 6.3 7.4 6.7 6.9 7.5
68.3 0.9 6.0 8.2 6.8 6.8 7.2
68.4 0.7 6.1 9.0 6.5 6.6 6.0
68.5 0.8 5.4 6.2 5.6 6.0 5.0
68.6 0.6 4.0 4.6 3.4 4.3 2.8
68.7 0.6 1.8 2.4 1.2 1.8 0.9
68.78 0.6 0.7 0 0 0 0
68.9 0.5 0.8 0.9 0.8 0.8 0.9
69.0 0.5 0.7 0.8 0.9 0.8 0.8
69.1 0.5 0.7 0.8 0.7 0.8 0.7
69.2 0.4 0.7 0.8 0.7 0.7 0.8
69.3 0.4 0.6 0.7 0.7 0.7 0.6
69.4 0.4 0.6 0.6 0.6 0.6 0.5
69.47 0.3 0.3 0 0 0 0
}\dF

% spikes (from 0) then band filled from 0 up to hi
\newcommand{\spikesband}[1]{%
  \addplot[ycomb, spk, line width=0.5pt, mark=none] table[x=t,y=sa]{#1};
  \addplot[ycomb, spk, line width=0.5pt, mark=none] table[x expr=\thisrow{t}+0.025,y=sc]{#1};
  \addplot[ycomb, spk, line width=0.5pt, mark=none] table[x expr=\thisrow{t}+0.05,y=sb]{#1};
  \addplot[ycomb, spk, line width=0.5pt, mark=none] table[x expr=\thisrow{t}+0.075,y=sd]{#1};
  \addplot[fill=fillred, draw=none] table[x=t,y=hi]{#1} \closedcycle;
}
% lower edge: red (panels with negative excursions) or white gap (panels above 0)
\newcommand{\lowred}[1]{%
  \addplot[fill=fillred, draw=none] table[x=t,y=lo]{#1} \closedcycle;
  \addplot[spk, line width=0.3pt] table[x=t,y=lo]{#1};
}
\newcommand{\lowwhite}[1]{%
  \addplot[fill=white, draw=none] table[x=t,y=lo]{#1} \closedcycle;
  \addplot[spk, line width=0.3pt] table[x=t,y=lo]{#1};
}

\pgfplotsset{
  panel/.style={
    scale only axis, width=399pt, xmin=59, xmax=70,
    anchor=south west,
    axis on top,
    axis line style={line width=0.9pt},
    tick align=inside, xtick pos=both, ytick pos=both,
    xtick={60,62,...,70}, minor x tick num=3,
    minor y tick num=4,
    major tick length=5pt, minor tick length=2.5pt,
    tick style={black, line width=0.5pt},
    xticklabels={},
    yticklabel style={font=\fontsize{10}{10}\selectfont, inner sep=0pt, xshift=-4.5pt},
    xticklabel style={font=\fontsize{10}{10}\selectfont, inner sep=0pt, yshift=-2pt},
  },
}

\begin{document}
\begin{tikzpicture}
\useasboundingbox (0pt,0pt) rectangle (632pt,-552pt);

% ---- panel 1 : KA2-111 ----
\begin{axis}[panel, at={(60.5pt,-75.5pt)}, height=71pt, ymin=-2.1, ymax=11.45,
  ytick={-2,0,2,4,6,8,10}, yticklabels={−2.0,0.0,2.0,4.0,6.0,8.0,10.0}]
\addplot[basec, line width=0.9pt] coordinates {(59,0.3) (60.08,0.3) (60.1,0.5) (60.45,0.5)};
\addplot[basec, line width=0.9pt] coordinates {(69.47,0.3) (70,0.3)};
\spikesband{\dA}
\lowred{\dA}
\addplot[ycomb, spk, line width=0.5pt, mark=none] coordinates {(60.3,1.2) (60.38,3.9) (66.5,-1.9) (62.12,-0.5) (64.02,-0.6) (65.12,-0.6) (61.52,-0.3) (63.22,-0.3) (66.82,-0.3) (67.42,-0.3)};
\end{axis}

% ---- panel 2 : KA2-131 ----
\begin{axis}[panel, at={(60.5pt,-147.5pt)}, height=71.5pt, ymin=-3.42, ymax=7.33,
  ytick={-2,0,2,4,6}, yticklabels={−2.0,0.0,2.0,4.0,6.0}]
\addplot[basec, line width=0.9pt] coordinates {(59,0.3) (60.08,0.3) (60.1,0.45) (60.45,0.45)};
\addplot[basec, line width=0.9pt] coordinates {(69.47,0.3) (70,0.3)};
\spikesband{\dB}
\lowred{\dB}
\addplot[ycomb, spk, line width=0.5pt, mark=none] coordinates {(60.28,1.9) (60.38,2.6) (66.5,-3.3) (62.12,-0.9) (65.02,-0.6) (63.82,-0.4) (65.52,-0.5) (66.12,-0.3) (67.02,-0.4)};
\end{axis}

% ---- panel 3 : KA2-411 ----
\begin{axis}[panel, at={(60.5pt,-220.75pt)}, height=72.25pt, ymin=-0.12, ymax=3.33,
  ytick={0,0.5,1,1.5,2,2.5,3}, yticklabels={0.0,0.5,1.0,1.5,2.0,2.5,3.0}]
\addplot[basec, line width=0.9pt] coordinates {(59,0.03) (60.0,0.03) (60.1,0.1) (60.3,0.15) (60.45,0.18)};
\addplot[basec, line width=0.9pt] coordinates {(69.47,0.03) (70,0.03)};
\spikesband{\dC}
\lowwhite{\dC}
\addplot[ycomb, spk, line width=0.5pt, mark=none] coordinates {(60.3,0.5)};
\end{axis}

% ---- panel 4 : KA2-421 ----
\begin{axis}[panel, at={(60.5pt,-292.75pt)}, height=71.25pt, ymin=-0.45, ymax=11.07,
  ytick={0,2,4,6,8,10}, yticklabels={0.0,2.0,4.0,6.0,8.0,10.0}]
\addplot[basec, line width=0.9pt] coordinates {(59,0.2) (60.0,0.2) (60.05,0.4) (60.2,0.5) (60.4,0.7) (60.45,0.7)};
\addplot[basec, line width=0.9pt] coordinates {(69.47,0.2) (70,0.2)};
\spikesband{\dD}
\lowwhite{\dD}
\addplot[ycomb, spk, line width=0.5pt, mark=none] coordinates {(60.3,1.5)};
\end{axis}

% ---- panel 5 : KA2-431 ----
\begin{axis}[panel, at={(60.5pt,-365pt)}, height=71.25pt, ymin=-0.4, ymax=16.24,
  ytick={0,5,10,15}, yticklabels={0.0,5.0,10.0,15.0}]
\addplot[basec, line width=0.9pt] coordinates {(59,0.3) (60.05,0.3) (60.07,0.5) (60.45,0.5)};
\addplot[basec, line width=0.9pt] coordinates {(69.47,0.3) (70,0.3)};
\spikesband{\dE}
\lowwhite{\dE}
\addplot[ycomb, spk, line width=0.5pt, mark=none] coordinates {(60.3,1.3)};
\end{axis}

% ---- panel 6 : KA2-511 ----
\begin{axis}[panel, at={(60.5pt,-437pt)}, height=70.5pt, ymin=-0.35, ymax=12.0,
  ytick={0,2,4,6,8,10}, yticklabels={0.0,2.0,4.0,6.0,8.0,10.0}]
\addplot[basec, line width=0.9pt] coordinates {(59,0.3) (60.0,0.3) (60.05,0.5) (60.4,0.6) (60.45,0.6)};
\addplot[basec, line width=0.9pt] coordinates {(69.47,0.3) (70,0.3)};
\spikesband{\dF}
\lowwhite{\dF}
\addplot[ycomb, spk, line width=0.5pt, mark=none] coordinates {(60.3,1.8)};
\end{axis}

% ---- panel 7 : NBI/PTOT ----
\begin{axis}[panel, at={(60.5pt,-500pt)}, height=61pt, ymin=-0.11, ymax=1.89,
  ytick={0,0.5,1,1.5}, yticklabels={0.0,0.5,1.0,1.5},
  xticklabels={60,62,64,66,68,70}]
\addplot[const plot, pwr, line width=0.8pt] coordinates {
(59,0.0) (60.0,0.97) (60.08,0.88) (60.1,1.12) (60.12,0.82) (60.16,0.70) (60.18,0.82)
(60.34,0.97) (60.37,1.12) (60.42,1.05) (60.45,1.12) (60.51,1.25) (60.55,1.68) (60.56,0.15)
(60.58,1.05) (60.6,0.82) (60.62,0.97) (61.27,0.82) (61.33,0.97) (61.52,0.82) (61.62,0.97)
(61.76,0.82) (61.85,0.97) (61.90,0.82) (61.99,0.97) (62.03,0.82) (62.20,0.97) (62.30,0.82)
(62.71,0.68) (62.81,0.82) (63.32,0.68) (63.38,0.55) (63.40,1.10) (63.42,0.68) (63.45,0.82)
(63.73,0.68) (63.81,0.82) (63.92,0.68) (64.02,0.82) (64.07,1.66) (64.10,1.80) (64.13,1.66)
(64.18,1.53) (64.43,1.39) (64.59,1.53) (64.68,1.66) (64.80,1.80) (64.82,1.66) (64.92,1.80)
(64.94,1.66) (65.00,1.53) (65.13,1.66) (65.21,1.53) (65.29,1.66) (65.48,1.39) (65.52,1.66)
(65.70,1.53) (65.78,1.66) (65.85,1.80) (65.88,1.66) (65.92,1.80) (65.95,1.66) (65.98,1.80)
(66.01,1.66) (66.04,1.80) (66.07,1.66) (66.15,1.80) (66.52,1.66) (66.64,1.80) (66.97,1.66)
(67.22,1.80) (67.51,1.66) (67.63,1.80) (68.12,1.66) (68.24,1.80) (68.57,0.14) (68.74,0.0)
(68.82,0.14) (69.31,0.0) (69.43,0.14) (69.52,0.0) (70,0.0)};
\end{axis}

% hide lower half of the clipped -2.0 label of panel 1
\fill[white] (15pt,-75.9pt) rectangle (59.8pt,-80pt);

% ---- y-axis labels ----
\begin{scope}[every node/.style={rotate=90, inner sep=0pt, font=\fontsize{11}{11}\selectfont}]
\node at (11pt,-21pt) {A};      \node at (11pt,-48.5pt) {10\textsuperscript{−5}};
\node at (11pt,-92.5pt) {A};    \node at (11pt,-118pt) {10\textsuperscript{−5}};
\node at (11pt,-165pt) {A};     \node at (11pt,-193pt) {10\textsuperscript{−4}};
\node at (11pt,-237.5pt) {A};   \node at (11pt,-266pt) {10\textsuperscript{−5}};
\node at (11pt,-310.5pt) {A};   \node at (11pt,-337.5pt) {10\textsuperscript{−5}};
\node at (11pt,-383pt) {A};     \node at (11pt,-410pt) {10\textsuperscript{−5}};
\node at (11pt,-453.5pt) {Watt};\node at (11pt,-489.5pt) {10\textsuperscript{7}};
\end{scope}

\node[font=\fontsize{10}{10}\selectfont, inner sep=0pt] at (260pt,-515pt) {Seconds};

% ---- legend entries ----
\begin{scope}[every node/.style={anchor=base west, inner sep=0pt, font=\fontsize{11}{11}\selectfont}]
\draw[legred, line width=0.8pt] (483.5pt,-11pt) -- (503.5pt,-11pt);
\node at (505pt,-15pt) {68012 DD/KA2-111<CUR};
\draw[legred, line width=0.8pt] (483.5pt,-84pt) -- (503.5pt,-84pt);
\node at (505pt,-88pt) {68012 DD/KA2-131<CUR};
\draw[legred, line width=0.8pt] (483.5pt,-156.5pt) -- (503.5pt,-156.5pt);
\node at (505pt,-160.5pt) {68012 DD/KA2-411<CUR};
\draw[legred, line width=0.8pt] (483.5pt,-230pt) -- (503.5pt,-230pt);
\node at (505pt,-234pt) {68012 DD/KA2-421<CUR};
\draw[legred, line width=0.8pt] (483.5pt,-302pt) -- (503.5pt,-302pt);
\node at (505pt,-306pt) {68012 DD/KA2-431<CUR};
\draw[legred, line width=0.8pt] (483.5pt,-375pt) -- (503.5pt,-375pt);
\node at (505pt,-379pt) {68012 DD/KA2-511<CUR};
\draw[legred, line width=0.8pt] (483.5pt,-447pt) -- (503.5pt,-447pt);
\node at (505pt,-451pt) {68012 NBI/PTOT};
\node at (515pt,-463.5pt) {Seq=81 (0)};
\end{scope}

% ---- annotations ----
\node[anchor=base west, inner sep=0pt, font=\fontsize{26.5}{26.5}\selectfont] at (117.5pt,-30pt) {Foil currents (A)};
\node[anchor=base west, inner sep=0pt, font=\fontsize{26}{26}\selectfont] at (311.5pt,-482.5pt) {P};
\node[anchor=base west, inner sep=0pt, font=\fontsize{19}{19}\selectfont] at (331pt,-490pt) {nb};
\node[anchor=base west, inner sep=0pt, font=\fontsize{26.5}{26.5}\selectfont] at (214.5pt,-545.5pt) {time (s)};

% ---- partial logo at the bottom edge ----
\node[anchor=north west, inner sep=0pt, font=\bfseries\fontsize{31}{31}\selectfont] at (464pt,-548.5pt) {PPPL};
\fill[logoblue] (564pt,-549.5pt) rectangle (615pt,-556pt);
\end{tikzpicture}
\end{document}
